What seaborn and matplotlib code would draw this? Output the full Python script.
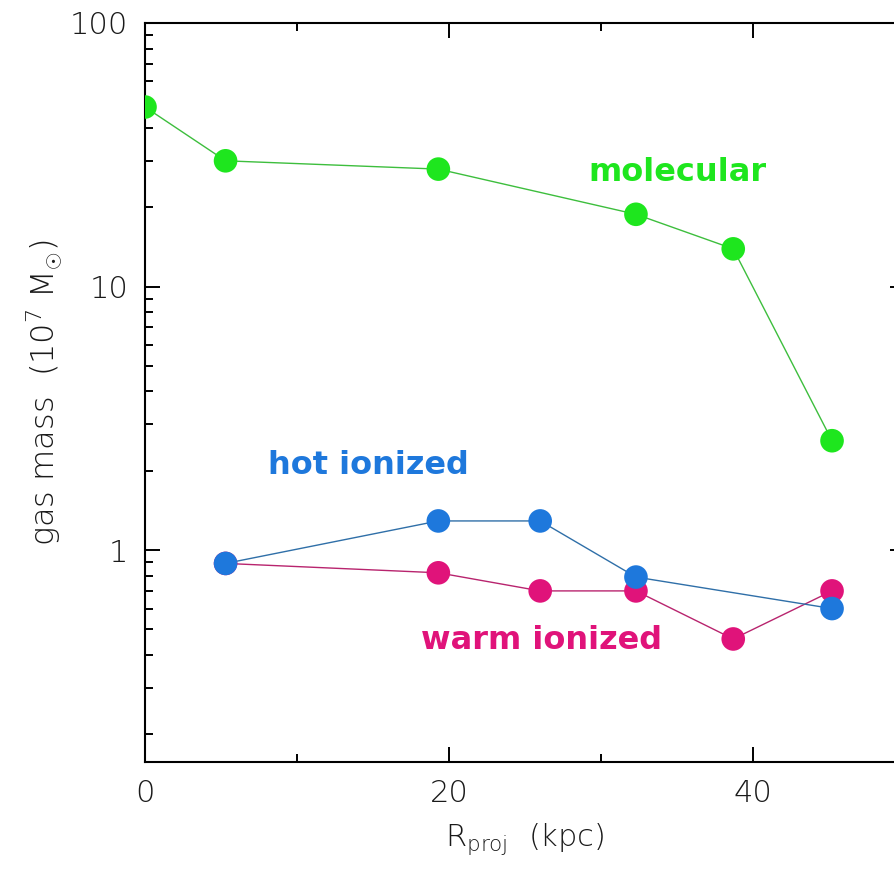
import matplotlib
matplotlib.use("Agg")
import matplotlib.pyplot as plt
from matplotlib.ticker import LogLocator, MultipleLocator, FixedLocator, FixedFormatter
import numpy as np
import pandas as pd
import seaborn as sns

# Projected radius (kpc) and gas masses (1e7 Msun) for each phase
r_molecular = [0.0, 5.3, 19.3, 32.3, 38.7, 45.2]
m_molecular = [48.0, 30.0, 27.9, 18.8, 13.9, 2.6]

r_hot = [5.3, 19.3, 26.0, 32.3, 45.2]
m_hot = [0.89, 1.29, 1.29, 0.79, 0.60]

r_warm = [5.3, 19.3, 26.0, 32.3, 38.7, 45.2]
m_warm = [0.89, 0.82, 0.70, 0.70, 0.46, 0.70]

phases = ["molecular", "hot ionized", "warm ionized"]
colors = {"molecular": "#1EE61E", "hot ionized": "#1E78DC", "warm ionized": "#E0137A"}
line_colors = {"molecular": "#3DBE3D", "hot ionized": "#2F6FA8", "warm ionized": "#B8246E"}

df = pd.concat([
    pd.DataFrame({"R": r_molecular, "M": m_molecular, "phase": "molecular"}),
    pd.DataFrame({"R": r_hot, "M": m_hot, "phase": "hot ionized"}),
    pd.DataFrame({"R": r_warm, "M": m_warm, "phase": "warm ionized"}),
], ignore_index=True)

sns.set_style("ticks")
plt.rcParams["font.family"] = ["DejaVu Sans"]
plt.rcParams["mathtext.fontset"] = "custom"
plt.rcParams["mathtext.rm"] = "DejaVu Sans:light"
plt.rcParams["mathtext.it"] = "DejaVu Sans:light"

fig = plt.figure(figsize=(8.94, 8.75), dpi=100)
ax = fig.add_axes([145 / 894, 1 - 762 / 875, 760 / 894, 739 / 875])

# draw order: warm first, then hot, then molecular on top
for ph in ["warm ionized", "hot ionized", "molecular"]:
    sub = df[df["phase"] == ph]
    sns.lineplot(data=sub, x="R", y="M", color=line_colors[ph], lw=1.0,
                 estimator=None, sort=False, ax=ax, legend=False)
    sns.scatterplot(data=sub, x="R", y="M", color=colors[ph], s=17 ** 2,
                    edgecolor="none", ax=ax, legend=False, zorder=3)

ax.set_yscale("log")
ax.set_xlim(0, 50)
ax.set_ylim(0.157, 100)

ax.xaxis.set_major_locator(FixedLocator([0, 20, 40]))
ax.xaxis.set_major_formatter(FixedFormatter(["0", "20", "40"]))
ax.xaxis.set_minor_locator(MultipleLocator(10))
ax.yaxis.set_major_locator(FixedLocator([1, 10, 100]))
ax.yaxis.set_major_formatter(FixedFormatter(["1", "10", "100"]))
ax.yaxis.set_minor_locator(LogLocator(base=10, subs=np.arange(2, 10)))

for s in ax.spines.values():
    s.set_visible(True)
    s.set_linewidth(1.5)
    s.set_color("black")

ax.tick_params(which="both", direction="in", top=True, right=True,
               colors="black", width=1.4)
ax.tick_params(which="major", length=11, labelsize=22, pad=12)
ax.tick_params(which="minor", length=6)
for lab in ax.get_xticklabels() + ax.get_yticklabels():
    lab.set_fontweight("light")
    lab.set_color("#1a1a1a")

ax.set_xlabel(r"R$_{\rm proj}$  (kpc)", fontsize=22, fontweight="light",
              color="#1a1a1a", labelpad=10)
ax.set_ylabel(r"gas mass  (10$^{7}$ M$_{\odot}$)", fontsize=23, fontweight="light",
              color="#1a1a1a", labelpad=4)

label_pos = {"molecular": (35.0, 27.2), "hot ionized": (14.7, 2.10), "warm ionized": (26.1, 0.455)}
for ph in phases:
    x, y = label_pos[ph]
    ax.text(x, y, ph, color=colors[ph], fontsize=23, fontweight="semibold",
            ha="center", va="center")

fig.savefig("out.png", dpi=100, facecolor="white")
